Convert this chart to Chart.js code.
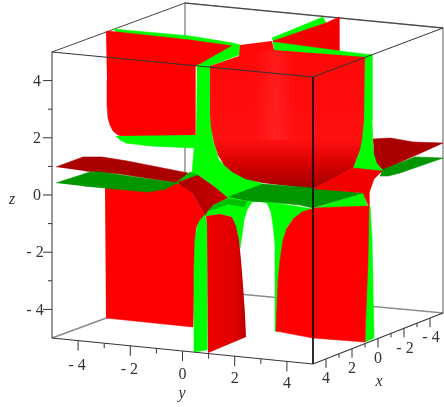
<!DOCTYPE html>
<html>
<head>
<meta charset="utf-8">
<style>
  html, body { margin: 0; padding: 0; background: #fff; }
  canvas { display: block; }
</style>
<script src="https://cdn.jsdelivr.net/npm/chart.js@4"></script>
</head>
<body>
<canvas id="plot" width="444" height="407"></canvas>
<script>
// axis ticks
const yTicks = [-4, -3, -2, -1, 0, 1, 2, 3, 4];
const xTicks = [4, 3, 2, 1, 0, -1, -2, -3, -4];
const zTicks = [-4, -3, -2, -1, 0, 1, 2, 3, 4];

// box corners
const boxBack = [[52, 338], [185, 289], [443, 313], [443, 28], [185, 3], [185, 289]];
const boxTop = [[52, 52], [185, 3], [443, 28]];
const boxFront = [[52, 338], [52, 52], [313, 77], [443, 28]];
const boxFrontEdge = [[313, 77], [313, 364]];
const boxFloor = [[52, 338], [313, 364], [443, 313]];

// surface outlines
const upperLeftRim = [[113, 29], [190, 36], [233, 43], [240, 45], [233, 47], [190, 42], [117, 33]];
const upperLeftWall = [[106, 31], [117, 32], [190, 40], [233, 46], [233, 52], [198, 65], [195, 66], [195, 136], [125, 137], [118, 135], [113, 131], [110, 125], [108, 118], [107, 105], [107, 80]];
const upperLeftBand = [[116, 136], [120, 140], [126, 143], [150, 146], [194, 148], [196, 135]];
const backRim = [[272, 38], [323, 17], [326, 23], [273, 42]];
const backWall = [[273, 41], [326, 23], [339, 17], [339, 53], [273, 44]];
const backBand = [[273, 42], [340, 51], [372, 55], [362, 58], [274, 50]];
const rightStrip = [[365, 55], [372, 55], [372, 120], [373, 147], [377, 163], [383, 171], [375, 173], [353, 168], [359, 153], [363, 120]];
const centreStrip = [[197, 65], [210, 65], [210, 115], [213, 140], [219, 160], [232, 172], [263, 184], [250, 200], [228, 199], [215, 187], [198, 175], [192, 173], [194, 150], [196, 135]];
const centreDiagonal = [[233, 45], [240, 45], [239, 55], [207, 67], [198, 65]];
const bowl = [[210, 66], [239, 56], [240, 45], [272, 41], [274, 50], [365, 57], [364, 120], [362, 140], [360, 150], [357, 158], [353, 168], [335, 178], [313, 189], [263, 183], [245, 179], [232, 172], [224, 165], [218, 155], [214, 143], [211, 128], [210, 115]];
const leftWall = [[105, 186], [148, 190], [165, 187], [178, 182], [192, 193], [202, 210], [205, 216], [200, 220], [196, 228], [193, 327], [106, 318]];
const leftPlaneRed = [[56, 167], [83, 157], [102, 157], [127, 161], [188, 173], [178, 183], [120, 174], [85, 171]];
const leftPlaneGreen = [[56, 183], [90, 172], [100, 172], [177, 183], [165, 189], [148, 192], [105, 188], [83, 186]];
const thinStrip = [[176, 183], [190, 172], [198, 175], [180, 185]];
const ridge = [[178, 182], [198, 175], [215, 187], [228, 198], [213, 205], [208, 211], [205, 216], [202, 210], [192, 193], [180, 185]];
const rightPlaneRed = [[373, 139], [390, 138], [413, 142], [443, 143], [383, 170], [377, 163], [374, 153]];
const rightPlaneGreen = [[382, 170], [415, 157], [443, 158], [400, 173], [388, 176], [380, 176]];
const midLime = [[247, 201], [270, 202], [313, 209], [363, 193], [367, 205], [369, 208], [315, 209], [302, 213], [293, 219], [287, 228], [283, 240], [280, 260], [278, 280], [277, 304], [278, 332], [275, 331], [275, 297], [275, 245], [273, 225], [271, 212], [267, 203], [258, 201], [252, 202]];
const darkBand = [[228, 197], [263, 184], [313, 188], [363, 193], [313, 208], [300, 205], [270, 202], [247, 201]];
const redBand = [[313, 189], [353, 168], [382, 171], [374, 179], [369, 193], [369, 207], [363, 193]];
const archLime = [[203, 217], [208, 211], [213, 205], [228, 198], [252, 202], [247, 210], [244, 220], [242, 235], [240, 248], [238, 235], [235, 224], [232, 217], [220, 214], [206, 216]];
const archShade = [[208, 211], [213, 205], [228, 199], [247, 201], [245, 207], [228, 204], [215, 209]];
const frontLime = [[205, 215], [207, 224], [207, 350], [194, 352], [194, 271], [195, 240], [197, 227], [200, 220]];
const frontBlock = [[206, 216], [220, 214], [232, 217], [236, 226], [239, 240], [241, 260], [243, 285], [245, 314], [246, 337], [208, 353], [207, 225]];
const rightLime = [[368, 206], [370, 206], [372, 237], [374, 338], [365, 342]];
const rightBlock = [[293, 219], [302, 212], [315, 208], [369, 206], [368, 260], [366, 311], [365, 342], [313, 338], [276, 331], [277, 304], [278, 280], [280, 260], [283, 240], [287, 228]];

const canvas = document.getElementById('plot');
const ctx = canvas.getContext('2d');

const RED = '#ff0000', LIME = '#00ff00', DARKRED = '#aa0000', DARKGREEN = '#009600';

function vgrad(y0, y1, stops) {
  const g = ctx.createLinearGradient(0, y0, 0, y1);
  stops.forEach(s => g.addColorStop(s[0], s[1]));
  return g;
}
function hgrad(x0, x1, stops) {
  const g = ctx.createLinearGradient(x0, 0, x1, 0);
  stops.forEach(s => g.addColorStop(s[0], s[1]));
  return g;
}

const bowlFill = vgrad(60, 189, [[0, '#ff0808'], [0.62, '#ff1010'], [0.8, '#d80000'], [1, '#a00000']]);
const ridgeFill = hgrad(180, 228, [[0, '#b00000'], [1, '#c80000']]);
const blockFill = hgrad(207, 246, [[0, '#f00000'], [0.7, '#e00000'], [1, '#bb0000']]);
const shine = hgrad(255, 295, [[0, 'rgba(255,70,70,0)'], [0.5, 'rgba(255,70,70,0.3)'], [1, 'rgba(255,70,70,0)']]);
const shinePatch = [[255, 50], [295, 53], [295, 140], [255, 140]];

function shape(points, color) {
  return {
    data: points.map(p => ({ x: p[0], y: p[1] })),
    showLine: true, fill: 'shape', tension: 0,
    backgroundColor: color,
    borderColor: typeof color === 'string' ? color : 'rgba(0,0,0,0)',
    borderWidth: typeof color === 'string' ? 0.6 : 0,
    pointRadius: 0
  };
}
function edge(points, color, width) {
  return {
    data: points.map(p => ({ x: p[0], y: p[1] })),
    showLine: true, fill: false, tension: 0,
    borderColor: color, borderWidth: width,
    pointRadius: 0
  };
}

// back to front
const layers = [
  edge(boxBack, '#8a8a8a', 1.4),
  edge(boxTop, '#444444', 1),
  shape(upperLeftRim, LIME),
  shape(upperLeftWall, RED),
  shape(upperLeftBand, LIME),
  shape(backRim, LIME),
  shape(backWall, '#f40000'),
  shape(backBand, LIME),
  shape(rightStrip, LIME),
  shape(centreStrip, LIME),
  shape(centreDiagonal, LIME),
  shape(bowl, bowlFill),
  shape(shinePatch, shine),
  shape(rightPlaneRed, DARKRED),
  shape(rightPlaneGreen, DARKGREEN),
  shape(leftWall, RED),
  shape(leftPlaneRed, DARKRED),
  shape(leftPlaneGreen, DARKGREEN),
  shape(thinStrip, '#00c000'),
  shape(midLime, LIME),
  shape(darkBand, DARKGREEN),
  shape(redBand, '#f40000'),
  shape(archLime, LIME),
  shape(archShade, '#00c000'),
  shape(ridge, ridgeFill),
  shape(frontLime, LIME),
  shape(frontBlock, blockFill),
  shape(rightLime, LIME),
  shape(rightBlock, RED),
  edge(boxFront, '#333333', 1),
  edge(boxFrontEdge, '#111111', 1),
  edge(boxFloor, '#333333', 1.2)
];
layers.forEach((l, i) => { l.order = layers.length - i; });

function label(c, text, x, y, italic) {
  c.font = (italic ? 'italic ' : '') + '16px "Liberation Serif"';
  c.fillStyle = '#333333';
  c.textAlign = 'center';
  c.textBaseline = 'middle';
  c.fillText(text, x, y);
}
const fmt = v => String(v).replace('-', '- ');

// tick marks and labels of the three box axes
const axes3d = {
  id: 'axes3d',
  afterDatasetsDraw(chart) {
    const c = chart.ctx, sx = chart.scales.x, sy = chart.scales.y, sz = chart.scales.z;
    const seg = (x0, y0, x1, y1) => {
      c.beginPath();
      c.moveTo(sx.getPixelForValue(x0), sy.getPixelForValue(y0));
      c.lineTo(sx.getPixelForValue(x1), sy.getPixelForValue(y1));
      c.stroke();
    };
    c.save();
    c.strokeStyle = '#333333';
    c.lineWidth = 1;
    zTicks.forEach(v => {
      const py = sz.getPixelForValue(v);
      const major = v % 2 === 0;
      c.beginPath();
      c.moveTo(52, py);
      c.lineTo(major ? 43 : 48, py);
      c.stroke();
      if (major) label(c, fmt(v), v < 0 ? 35 : 37, py + 1);
    });
    yTicks.forEach(v => {
      const t = (v + 5) / 10;
      const px = 52 + 261 * t, py = 338 + 26 * t;
      const major = v % 2 === 0;
      seg(px, py, px, py + (major ? 10 : 5));
      if (major) label(c, fmt(v), px + (v < 0 ? -1 : 0), py + 25 - (v + 5) * 0.3);
    });
    xTicks.forEach(v => {
      const t = (5 - v) / 10;
      const px = 313 + 130 * t, py = 364 - 51 * t;
      const major = v % 2 === 0;
      seg(px, py, px, py + (major ? 9 : 4));
      if (major) label(c, fmt(v), px + (v < 0 ? 1 : 0), py + 20);
    });
    label(c, 'y', 182, 394, true);
    label(c, 'x', 379, 382, true);
    label(c, 'z', 12, 200, true);
    c.restore();
  }
};

new Chart(ctx, {
  type: 'scatter',
  data: { datasets: layers },
  options: {
    responsive: false,
    animation: false,
    events: [],
    layout: { padding: 0 },
    plugins: { legend: { display: false }, tooltip: { enabled: false } },
    scales: {
      x: { type: 'linear', min: 0, max: 444, display: false },
      y: { type: 'linear', min: 0, max: 407, reverse: true, display: false },
      z: { type: 'linear', position: 'left', min: -7.413, max: 6.818, display: false }
    }
  },
  plugins: [axes3d]
});
</script>
</body>
</html>
